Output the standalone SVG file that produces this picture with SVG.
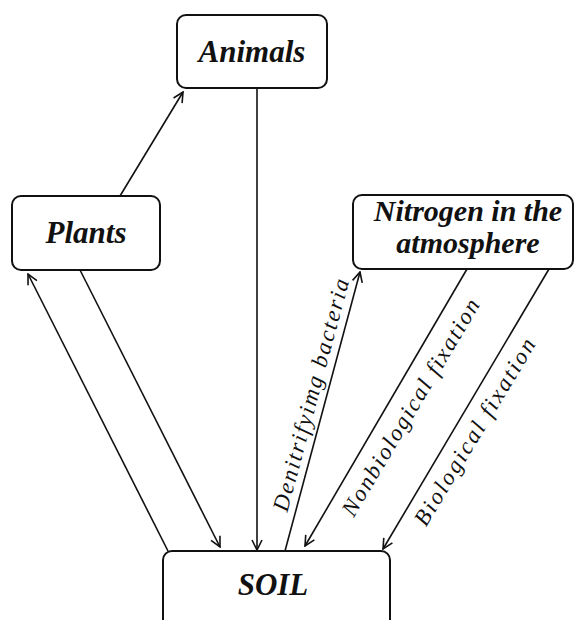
<svg xmlns="http://www.w3.org/2000/svg" width="576" height="620" viewBox="0 0 576 620">
<style>
.box{fill:#fff;stroke:#111;stroke-width:2}
.lbl{font-family:"Liberation Serif","Times New Roman",serif;font-weight:bold;font-style:italic;font-size:31px;fill:#111;text-anchor:middle}
.lbl2{font-size:30px}
.edge{fill:none;stroke:#111;stroke-width:1.6}
.elbl{font-family:"Liberation Serif","Times New Roman",serif;font-style:italic;font-size:23px;fill:#111;text-anchor:middle}
</style>
<defs>
<marker id="arr" viewBox="0 0 12 12" refX="11" refY="6" markerWidth="12" markerHeight="12" orient="auto" markerUnits="userSpaceOnUse">
<path d="M1,1 L11,6 L1,11" fill="none" stroke="#111" stroke-width="1.6"/>
</marker>
</defs>
<rect width="576" height="620" fill="#fff"/>
<g id="connectors">
<path class="edge" d="M120,196 L183,92" marker-end="url(#arr)"/>
<path class="edge" d="M257,88 L257,550" marker-end="url(#arr)"/>
<path class="edge" d="M80,270 L220,547" marker-end="url(#arr)"/>
<path class="edge" d="M168,551 L28,274" marker-end="url(#arr)"/>
<path class="edge" d="M285,551 L360,272" marker-end="url(#arr)"/>
<path class="edge" d="M467,269 L305,546" marker-end="url(#arr)"/>
<path class="edge" d="M549,269 L383,549" marker-end="url(#arr)"/>
<text class="elbl" transform="translate(326,399) rotate(-75)" y="-8" textLength="240" lengthAdjust="spacing">Denitrifyimg bacteria</text>
<text class="elbl" transform="translate(393,397) rotate(-59.3)" y="28" textLength="248" lengthAdjust="spacing">Nonbiological fixation</text>
<text class="elbl" transform="translate(458,422) rotate(-59)" y="27" textLength="214" lengthAdjust="spacing">Biological fixation</text>
</g>
<g id="animals">
<rect class="box" x="177" y="15" width="150" height="73" rx="9"/>
<text class="lbl" x="252" y="62">Animals</text>
</g>
<g id="plants">
<rect class="box" x="12" y="196" width="148" height="74" rx="9"/>
<text class="lbl" x="86" y="243">Plants</text>
</g>
<g id="nitrogen">
<rect class="box" x="353" y="195" width="220" height="74" rx="9"/>
<text class="lbl lbl2" x="468" y="221">Nitrogen in the</text>
<text class="lbl lbl2" x="468" y="253">atmosphere</text>
</g>
<g id="soil">
<rect class="box" x="163" y="551" width="227" height="90" rx="9"/>
<text class="lbl" x="273" y="595">SOIL</text>
</g>
</svg>
